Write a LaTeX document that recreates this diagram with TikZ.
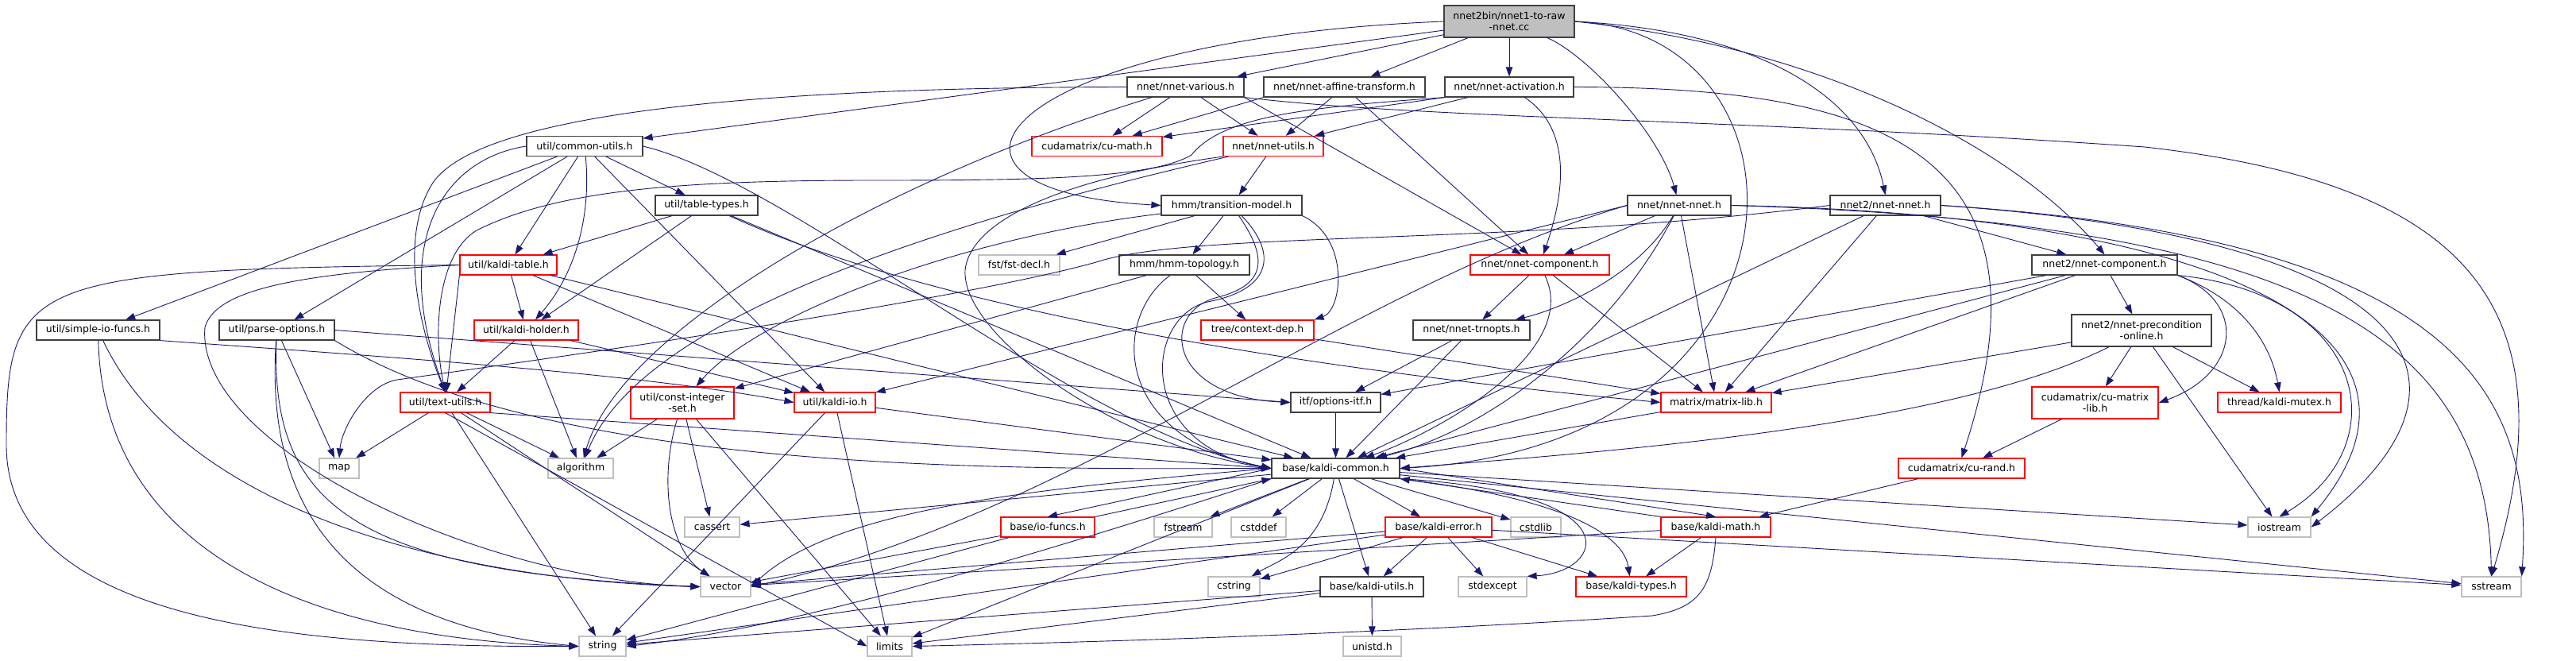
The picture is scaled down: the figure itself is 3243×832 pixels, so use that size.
\documentclass[tikz,border=0pt]{standalone}
\usepackage{fontspec}
\setmainfont{DejaVu Sans}
\usepackage{tikz}
\usetikzlibrary{arrows.meta}
\definecolor{edgeblue}{HTML}{191970}
\definecolor{boxgray}{HTML}{BFBFBF}
\definecolor{boxdark}{HTML}{404040}

\begin{document}
\begin{tikzpicture}[x=1pt,y=-1pt,
  every node/.style={font=\fontsize{12.5}{14}\selectfont},
  hdr/.style={draw=boxdark,line width=1.2pt,rectangle,inner sep=0pt,minimum height=25pt,align=center},
  hdrcut/.style={hdr,draw=red},
  sysh/.style={hdr,draw=boxgray},
  hdrmain/.style={hdr,fill=boxgray},
  dep/.style={draw=edgeblue,line width=0.9pt,-{Triangle[length=12pt,width=8.5pt]}}]
  \useasboundingbox (0,0) rectangle (3243,832);

  \node[hdrmain,minimum width=164,minimum height=40] (root) at (1900,27) {nnet2bin/nnet1-to-raw\\-nnet.cc};

  \node[hdr,minimum width=147] (nv) at (1492.5,109.5) {nnet/nnet-various.h};
  \node[hdr,minimum width=203] (af) at (1692.5,109.5) {nnet/nnet-affine-transform.h};
  \node[hdr,minimum width=162] (ac) at (1900,109.5) {nnet/nnet-activation.h};

  \node[hdr,minimum width=146] (cu) at (736,184) {util/common-utils.h};
  \node[hdrcut,minimum width=164] (cm) at (1381,184) {cudamatrix/cu-math.h};
  \node[hdrcut,minimum width=126] (nu) at (1603,184) {nnet/nnet-utils.h};

  \node[hdr,minimum width=129] (tt) at (889.5,258.5) {util/table-types.h};
  \node[hdr,minimum width=177] (tm) at (1550.5,258.5) {hmm/transition-model.h};
  \node[hdr,minimum width=130] (nn) at (2114,258.5) {nnet/nnet-nnet.h};
  \node[hdr,minimum width=139] (n2n) at (2373.5,258.5) {nnet2/nnet-nnet.h};

  \node[hdrcut,minimum width=122] (kt) at (640,333.5) {util/kaldi-table.h};
  \node[sysh,minimum width=102] (fd) at (1283,333.5) {fst/fst-decl.h};
  \node[hdr,minimum width=164] (ht) at (1491,333.5) {hmm/hmm-topology.h};
  \node[hdrcut,minimum width=175] (nc) at (1938.5,333.5) {nnet/nnet-component.h};
  \node[hdr,minimum width=183] (n2c) at (2649.5,333.5) {nnet2/nnet-component.h};

  \node[hdr,minimum width=155] (sio) at (123.5,415.5) {util/simple-io-funcs.h};
  \node[hdr,minimum width=145] (pop) at (348.5,415.5) {util/parse-options.h};
  \node[hdrcut,minimum width=131] (kh) at (662.5,415.5) {util/kaldi-holder.h};
  \node[hdrcut,minimum width=142] (cd) at (1583,415.5) {tree/context-dep.h};
  \node[hdr,minimum width=147] (trn) at (1852.5,415.5) {nnet/nnet-trnopts.h};
  \node[hdr,minimum width=176,minimum height=40] (po) at (2696,416) {nnet2/nnet-precondition\\-online.h};

  \node[hdrcut,minimum width=113] (tu) at (560.5,506.5) {util/text-utils.h};
  \node[hdrcut,minimum width=130,minimum height=40] (cis) at (859,507) {util/const-integer\\-set.h};
  \node[hdrcut,minimum width=102] (kio) at (1051,506.5) {util/kaldi-io.h};
  \node[hdr,minimum width=113] (oi) at (1681.5,506.5) {itf/options-itf.h};
  \node[hdrcut,minimum width=139] (ml) at (2160.5,506.5) {matrix/matrix-lib.h};
  \node[hdrcut,minimum width=159,minimum height=40] (cml) at (2637.5,507) {cudamatrix/cu-matrix\\-lib.h};
  \node[hdrcut,minimum width=155] (mtx) at (2869.5,506.5) {thread/kaldi-mutex.h};

  \node[sysh,minimum width=50] (map) at (427,589.5) {map};
  \node[sysh,minimum width=82] (alg) at (731,589.5) {algorithm};
  \node[hdr,minimum width=161] (kc) at (1681.5,589.5) {base/kaldi-common.h};
  \node[hdrcut,minimum width=159] (cr) at (2469.5,589.5) {cudamatrix/cu-rand.h};

  \node[sysh,minimum width=69] (cas) at (896.5,663.5) {cassert};
  \node[hdrcut,minimum width=118] (iof) at (1319,663.5) {base/io-funcs.h};
  \node[sysh,minimum width=73] (fs) at (1489.5,663.5) {fstream};
  \node[sysh,minimum width=69] (cdf) at (1584.5,663.5) {cstddef};
  \node[hdrcut,minimum width=134] (ke) at (1811,663.5) {base/kaldi-error.h};
  \node[sysh,minimum width=63] (csl) at (1933.5,663.5) {cstdlib};
  \node[hdrcut,minimum width=138] (km) at (2160,663.5) {base/kaldi-math.h};
  \node[sysh,minimum width=79] (ios) at (2869.5,663.5) {iostream};

  \node[sysh,minimum width=63] (vec) at (913.5,738.5) {vector};
  \node[sysh,minimum width=65] (cst) at (1553.5,738.5) {cstring};
  \node[hdr,minimum width=130] (ku) at (1727,738.5) {base/kaldi-utils.h};
  \node[sysh,minimum width=86] (stdx) at (1879,738.5) {stdexcept};
  \node[hdrcut,minimum width=139] (kty) at (2053.5,738.5) {base/kaldi-types.h};
  \node[sysh,minimum width=75] (ss) at (3136.5,738.5) {sstream};

  \node[sysh,minimum width=59] (str) at (758.5,813.5) {string};
  \node[sysh,minimum width=56] (lim) at (1120,813.5) {limits};
  \node[sysh,minimum width=73] (uni) at (1727.5,813.5) {unistd.h};

  \foreach \s/\t in {root/nv,root/af,root/ac,root/cu, nv/cm,nv/nu, af/nu,af/nc, ac/nu,
      nu/tm, tm/fd,tm/ht, ht/cd,ht/cis, cd/ml, cu/sio,cu/pop,cu/tt,cu/kt,cu/kio,
      tt/kt,tt/kh,tt/kc, kt/kh,kt/kio,kt/kc, kh/tu,kh/alg,kh/kio,
      tu/map,tu/alg,tu/vec,tu/str, cis/alg,cis/cas,cis/lim, kio/kc,kio/str,kio/lim,
      oi/kc,trn/oi,trn/kc, nc/trn,nc/ml, nn/nc,nn/ml, n2n/n2c,n2n/ml,n2n/kc,
      n2c/po,n2c/ml,n2c/oi,n2c/kc, po/cml,po/mtx,po/ios,po/ml, cml/cr,cr/km,ml/kc,
      kc/cas,kc/fs,kc/cdf,kc/ke,kc/csl,kc/ku,kc/lim,kc/ios,kc/ss,
      ke/kty,ke/ku,ke/stdx,ke/ss,ke/cst,ke/vec,ke/str, km/kty,km/vec,
      ku/uni,ku/str,ku/lim, iof/str,iof/vec, pop/map}
    \draw[dep] (\s) -- (\t);

  \draw[dep] (nv.south east) -- (nc);
  \draw[dep] (af.south west) -- (cm);
  \draw[dep] (ac.south west) -- (cm);
  \draw[dep] (kt.south west) -- (tu);
  \draw[dep] (tu.south) -- (lim.west);
  \draw[dep] (tu.south east) -- (kc.west);
  \draw[dep] (pop.east) -- (oi.west);
  \draw[dep] (nn.west) -- (kio);
  \draw[dep] (kc.west) -- (iof.north);
  \draw[dep] (iof.north east) -- (kc.south west);
  \draw[dep] (kc.east) -- (km.north);
  \draw[dep] (km.north west) -- (kc.south east);

  \draw[dep] (root.west) .. controls (1250,50) and (1120,240) .. (tm.west);
  \draw[dep] (root) .. controls (2000,70) and (2090,170) .. (nn);
  \draw[dep] (root.east) .. controls (2230,40) and (2350,130) .. (n2n.north);
  \draw[dep] (root.east) .. controls (2300,60) and (2540,190) .. (n2c.north);
  \draw[dep] (root.east) .. controls (2300,40) and (2300,560) .. (kc.east);
  \draw[dep] (nv.south east) .. controls (1800,150) and (2200,150) .. (2700,185) .. controls (3100,230) and (3240,380) .. (ss.north);
  \draw[dep] (nv) .. controls (1100,230) and (780,420) .. (alg);
  \draw[dep] (nv.west) .. controls (900,110) and (600,150) .. (545,230) .. controls (500,300) and (530,420) .. (tu.north);
  \draw[dep] (ac) .. controls (1990,170) and (1960,270) .. (nc);
  \draw[dep] (ac.east) .. controls (2350,110) and (2600,180) .. (cr.north);
  \draw[dep] (ac.south west) .. controls (1650,135) and (1540,145) .. (1500,195) .. controls (1450,225) and (1300,227) .. (1100,227) .. controls (850,227) and (700,240) .. (600,290) .. controls (550,320) and (545,420) .. (tu.north);
  \draw[dep] (tm.south east) .. controls (1700,300) and (1690,390) .. (cd.north east);
  \draw[dep] (tm) .. controls (1600,330) and (1590,360) .. (1530,375) .. controls (1460,395) and (1470,500) .. (oi.west);
  \draw[dep] (tm) .. controls (1610,320) and (1600,365) .. (1520,380) .. controls (1440,400) and (1430,560) .. (kc.west);
  \draw[dep] (tm) .. controls (1200,300) and (950,400) .. (cis);
  \draw[dep] (ht) .. controls (1400,400) and (1400,550) .. (kc.west);
  \draw[dep] (nu) .. controls (1100,300) and (800,420) .. (alg);
  \draw[dep] (nu.south west) .. controls (1300,230) and (1220,290) .. (1215,340) .. controls (1210,420) and (1400,560) .. (kc.west);
  \draw[dep] (cu) .. controls (745,280) and (720,350) .. (kh);
  \draw[dep] (cu.west) .. controls (560,200) and (490,300) .. (tu.north);
  \draw[dep] (cu.east) .. controls (1000,230) and (1350,540) .. (kc.west);
  \draw[dep] (tt) .. controls (1200,400) and (1700,470) .. (ml.west);
  \draw[dep] (kt.west) .. controls (30,340) and (8,350) .. (8,560) .. controls (8,790) and (400,815) .. (str.west);
  \draw[dep] (kt.west) .. controls (350,345) and (270,370) .. (258,412) .. controls (245,560) and (600,730) .. (vec.west);
  \draw[dep] (sio) .. controls (130,700) and (400,805) .. (str.west);
  \draw[dep] (sio) .. controls (230,640) and (560,730) .. (vec.west);
  \draw[dep] (sio.south east) .. controls (500,450) and (800,470) .. (kio.west);
  \draw[dep] (pop) .. controls (340,640) and (450,720) .. (vec.west);
  \draw[dep] (pop) .. controls (330,680) and (480,790) .. (str.west);
  \draw[dep] (pop.south east) .. controls (700,600) and (1300,590) .. (kc.west);
  \draw[dep] (cis) .. controls (830,600) and (840,690) .. (vec);
  \draw[dep] (nc) .. controls (1990,440) and (1820,540) .. (kc);
  \draw[dep] (nn) .. controls (2060,350) and (1960,390) .. (trn);
  \draw[dep] (nn) .. controls (2030,420) and (1880,540) .. (kc);
  \draw[dep] (nn.west) .. controls (1700,360) and (1350,650) .. (vec.east);
  \draw[dep] (nn.east) .. controls (2800,270) and (3100,420) .. (ios.north east);
  \draw[dep] (nn.east) .. controls (2900,280) and (3130,420) .. (ss.north);
  \draw[dep] (n2n.east) .. controls (3050,300) and (3150,480) .. (ios.east);
  \draw[dep] (n2n.east) .. controls (3100,300) and (3190,500) .. (ss.north east);
  \draw[dep] (n2n.west) .. controls (1900,310) and (1500,290) .. (1380,330) .. controls (1200,380) and (700,450) .. (500,478) .. controls (460,485) and (430,540) .. (map.north);
  \draw[dep] (n2c.south east) .. controls (2830,380) and (2820,470) .. (cml.east);
  \draw[dep] (n2c.south east) .. controls (2830,380) and (2860,440) .. (mtx.north);
  \draw[dep] (n2c.south east) .. controls (2980,370) and (3020,560) .. (ios.north);
  \draw[dep] (po) .. controls (2450,540) and (2000,570) .. (kc.east);
  \draw[dep] (kc.west) .. controls (1300,615) and (1050,640) .. (vec.east);
  \draw[dep] (kc.south west) .. controls (1300,700) and (1000,790) .. (str.east);
  \draw[dep] (kc) .. controls (1665,690) and (1610,705) .. (cst);
  \draw[dep] (kc.south east) .. controls (1990,630) and (2045,680) .. (kty);
  \draw[dep] (kc.south east) .. controls (2060,620) and (2020,720) .. (stdx.north east);
  \draw[dep] (km.south) .. controls (2155,740) and (2140,765) .. (2080,775) .. controls (1700,800) and (1300,810) .. (lim.east);
\end{tikzpicture}
\end{document}
